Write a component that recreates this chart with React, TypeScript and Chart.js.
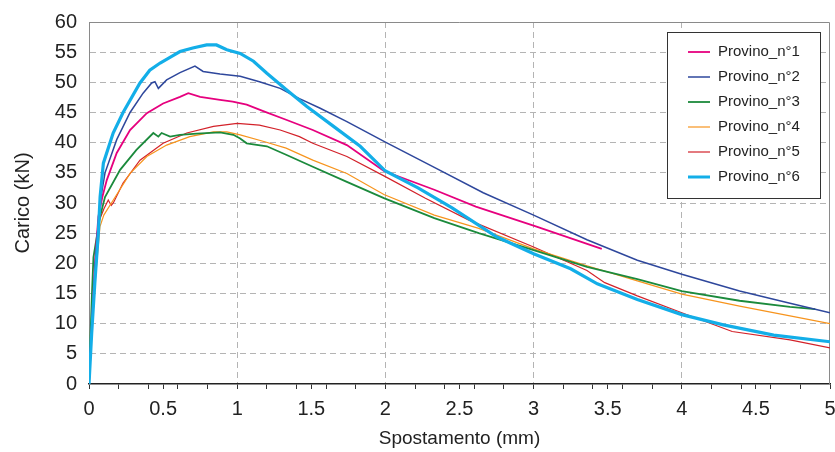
import React, { useEffect, useRef } from 'react';
import { Chart, registerables } from 'chart.js';

Chart.register(...registerables);

const FONT = "'Liberation Sans', Arial, sans-serif";

const seriesNames = ['Provino_n°1', 'Provino_n°2', 'Provino_n°3', 'Provino_n°4', 'Provino_n°5', 'Provino_n°6'];
const seriesColors = ['#e6007e', '#2e479c', '#1b8a3c', '#f7941d', '#d3222a', '#13aee8'];
const seriesWidths = [1.8, 1.5, 1.8, 1.2, 1.2, 3.2];

const p1X = [0, 0.02, 0.04, 0.063, 0.09, 0.12, 0.187, 0.277, 0.39, 0.5, 0.614, 0.67, 0.75, 0.884, 0.97, 1.064, 1.18, 1.33, 1.51, 1.74, 1.99, 2.33, 2.61, 3.02, 3.46];
const p1Y = [0, 10, 20, 27.7, 31, 33.8, 38.3, 42.1, 44.9, 46.5, 47.6, 48.2, 47.6, 47.1, 46.8, 46.3, 45.2, 43.8, 42.1, 39.6, 35.3, 32.2, 29.4, 26.1, 22.4];

const p2X = [0, 0.02, 0.045, 0.074, 0.108, 0.187, 0.277, 0.365, 0.423, 0.445, 0.468, 0.524, 0.614, 0.715, 0.77, 0.884, 1.02, 1.15, 1.29, 1.42, 1.56, 1.74, 2.0, 2.33, 2.66, 3.0, 3.36, 3.7, 4.0, 4.39, 4.73, 5.0];
const p2Y = [0, 10, 21, 30, 35, 40.5, 45, 48.2, 49.9, 50.1, 49.0, 50.4, 51.6, 52.7, 51.8, 51.4, 51.0, 50.1, 49.0, 47.3, 45.7, 43.5, 40.1, 35.9, 31.7, 28, 23.9, 20.5, 18.2, 15.4, 13.4, 11.8];

const p3X = [0, 0.01, 0.02, 0.03, 0.05, 0.074, 0.108, 0.21, 0.32, 0.434, 0.468, 0.49, 0.547, 0.614, 0.727, 0.884, 0.974, 1.02, 1.064, 1.2, 1.33, 1.51, 1.74, 1.99, 2.33, 2.63, 3.0, 3.36, 3.7, 4.0, 4.39, 4.73, 4.9];
const p3Y = [0, 8, 15, 21, 24, 27.7, 31, 35.5, 38.8, 41.6, 41.0, 41.6, 41.0, 41.3, 41.5, 41.7, 41.3, 40.7, 39.9, 39.4, 38, 36, 33.5, 30.8, 27.5, 25, 22.2, 19.4, 17.4, 15.4, 13.8, 12.8, 12.4];

const p4X = [0, 0.02, 0.045, 0.074, 0.1, 0.164, 0.277, 0.39, 0.524, 0.68, 0.84, 0.93, 1.02, 1.18, 1.33, 1.51, 1.74, 1.99, 2.33, 2.63, 3.0, 3.36, 3.7, 4.0, 4.39, 4.73, 5.0];
const p4Y = [0, 9, 18, 26.1, 28, 30.5, 34.9, 37.7, 39.6, 41.0, 41.8, 41.8, 41.3, 40.2, 39.1, 37.1, 34.9, 31.4, 28, 25.8, 22.4, 19.6, 17.1, 14.9, 12.9, 11.3, 10.0];

const p5X = [0, 0.02, 0.045, 0.063, 0.1, 0.13, 0.15, 0.164, 0.23, 0.344, 0.5, 0.66, 0.84, 1.0, 1.15, 1.29, 1.42, 1.51, 1.74, 1.99, 2.27, 2.56, 3.0, 3.36, 3.48, 3.7, 4.0, 4.34, 4.73, 5.0];
const p5Y = [0, 9, 19, 26.7, 29, 30.5, 29.6, 30.0, 33.3, 37.1, 39.9, 41.6, 42.7, 43.2, 42.9, 42.1, 41, 39.9, 37.7, 34.5, 30.8, 27.2, 22.7, 18.8, 16.8, 14.6, 11.8, 8.7, 7.3, 6.0];

const p6X = [0, 0.018, 0.04, 0.063, 0.075, 0.097, 0.163, 0.23, 0.344, 0.41, 0.48, 0.558, 0.614, 0.70, 0.794, 0.86, 0.93, 1.02, 1.11, 1.2, 1.33, 1.47, 1.65, 1.83, 2.0, 2.22, 2.45, 2.75, 3.0, 3.25, 3.43, 3.7, 4.0, 4.28, 4.62, 5.0];
const p6Y = [0, 8.4, 17, 25, 31, 36.6, 41.6, 45, 49.9, 52, 53.2, 54.3, 55.1, 55.7, 56.2, 56.2, 55.4, 54.8, 53.5, 51.5, 48.8, 46.0, 42.7, 39.4, 35.3, 32.5, 29.2, 24.4, 21.6, 19.1, 16.6, 14, 11.5, 9.8, 8.1, 7.0];

const seriesX = [p1X, p2X, p3X, p4X, p5X, p6X];
const seriesY = [p1Y, p2Y, p3Y, p4Y, p5Y, p6Y];

const xTickMarks = [0, 0.2, 0.4, 0.5, 0.6, 0.8, 1, 1.2, 1.4, 1.5, 1.6, 1.8, 2, 2.2, 2.4, 2.5, 2.6, 2.8, 3, 3.2, 3.4, 3.5, 3.6, 3.8, 4, 4.2, 4.4, 4.5, 4.6, 4.8, 5];
const xTickLabels = [0, 0.5, 1, 1.5, 2, 2.5, 3, 3.5, 4, 4.5, 5];
const xGridValues = [1, 2, 3, 4];
const yTickValues = [0, 5, 10, 15, 20, 25, 30, 35, 40, 45, 50, 55, 60];

const xTitle = 'Spostamento (mm)';
const yTitle = 'Carico (kN)';

const frameAndLegend = {
  id: 'frameAndLegend',
  beforeDatasetsDraw(chart: any) {
    const { ctx, chartArea } = chart;
    ctx.save();
    ctx.strokeStyle = '#8a8a8a';
    ctx.lineWidth = 1;
    ctx.beginPath();
    ctx.moveTo(chartArea.left, chartArea.top + 0.5);
    ctx.lineTo(chartArea.right - 0.5, chartArea.top + 0.5);
    ctx.lineTo(chartArea.right - 0.5, chartArea.bottom);
    ctx.stroke();
    ctx.restore();
  },
  afterDraw(chart: any) {
    const { ctx } = chart;
    const bx = 667.5, by = 32.5, bw = 153, bh = 166;
    ctx.save();
    ctx.fillStyle = '#ffffff';
    ctx.fillRect(bx, by, bw, bh);
    ctx.strokeStyle = '#333333';
    ctx.lineWidth = 1;
    ctx.strokeRect(bx, by, bw, bh);
    ctx.font = `15px ${FONT}`;
    ctx.textBaseline = 'middle';
    ctx.textAlign = 'left';
    chart.data.datasets.forEach((ds: any, i: number) => {
      const y = 52 + i * 25;
      ctx.strokeStyle = ds.borderColor;
      ctx.lineWidth = Math.min(ds.borderWidth, 3);
      ctx.beginPath();
      ctx.moveTo(688, y);
      ctx.lineTo(710, y);
      ctx.stroke();
      ctx.fillStyle = '#222222';
      ctx.fillText(ds.label, 718, y);
    });
    ctx.restore();
  },
};

export default function App() {
  const canvasRef = useRef<HTMLCanvasElement>(null);

  useEffect(() => {
    if (!canvasRef.current) return;
    const datasets = seriesNames.map((name, i) => ({
      label: name,
      data: seriesX[i].map((x, j) => ({ x, y: seriesY[i][j] })),
      borderColor: seriesColors[i],
      backgroundColor: seriesColors[i],
      borderWidth: seriesWidths[i],
      pointRadius: 0,
      tension: 0,
      fill: false,
      order: i === 5 ? 0 : i === 1 ? 1 : 2,
    }));

    const chart = new Chart(canvasRef.current, {
      type: 'line',
      data: { datasets },
      plugins: [frameAndLegend],
      options: {
        animation: false,
        responsive: true,
        maintainAspectRatio: false,
        parsing: false as any,
        layout: { padding: { top: 22, right: 5, left: 0, bottom: 0 } },
        plugins: { legend: { display: false }, tooltip: { enabled: false } },
        scales: {
          x: {
            type: 'linear',
            min: 0,
            max: 5,
            afterBuildTicks: (scale: any) => {
              scale.ticks = xTickMarks.map((v) => ({ value: v }));
            },
            afterFit: (scale: any) => {
              scale.height = 68;
              scale.paddingLeft = 0;
              scale.paddingRight = 0;
            },
            ticks: {
              autoSkip: false,
              maxRotation: 0,
              padding: 8,
              color: '#222',
              font: { family: FONT, size: 20 },
              callback: (value: any) => (xTickLabels.includes(value) ? String(value) : ''),
            },
            grid: {
              color: (c: any) => (c.tick && xGridValues.includes(c.tick.value) ? '#b4b4b4' : 'rgba(0,0,0,0)'),
              tickColor: '#333',
              tickLength: 5,
              lineWidth: 1,
            },
            border: { display: true, color: '#222', width: 1.5, dash: [6, 4] },
            title: {
              display: true,
              text: xTitle,
              color: '#222',
              font: { family: FONT, size: 19 },
              padding: { top: 0, bottom: 2 },
            },
          },
          y: {
            type: 'linear',
            min: 0,
            max: 60,
            afterBuildTicks: (scale: any) => {
              scale.ticks = yTickValues.map((v) => ({ value: v }));
            },
            afterFit: (scale: any) => {
              scale.width = 89;
              scale.paddingTop = 0;
              scale.paddingBottom = 0;
            },
            ticks: {
              padding: 12,
              color: '#222',
              font: { family: FONT, size: 20 },
            },
            grid: {
              drawTicks: false,
              color: (c: any) => (c.tick && (c.tick.value === 0 || c.tick.value === 60) ? 'rgba(0,0,0,0)' : '#b4b4b4'),
              lineWidth: 1,
            },
            border: { display: true, color: '#8a8a8a', width: 1, dash: [6, 4] },
            title: {
              display: true,
              text: yTitle,
              color: '#222',
              font: { family: FONT, size: 20 },
              padding: { top: 11, bottom: 0 },
            },
          },
        },
      },
    } as any);

    return () => {
      chart.destroy();
    };
  }, []);

  return (
    <div style={{ position: 'fixed', left: 0, top: 0, width: 835, height: 452, background: '#fff' }}>
      <canvas ref={canvasRef} />
    </div>
  );
}
